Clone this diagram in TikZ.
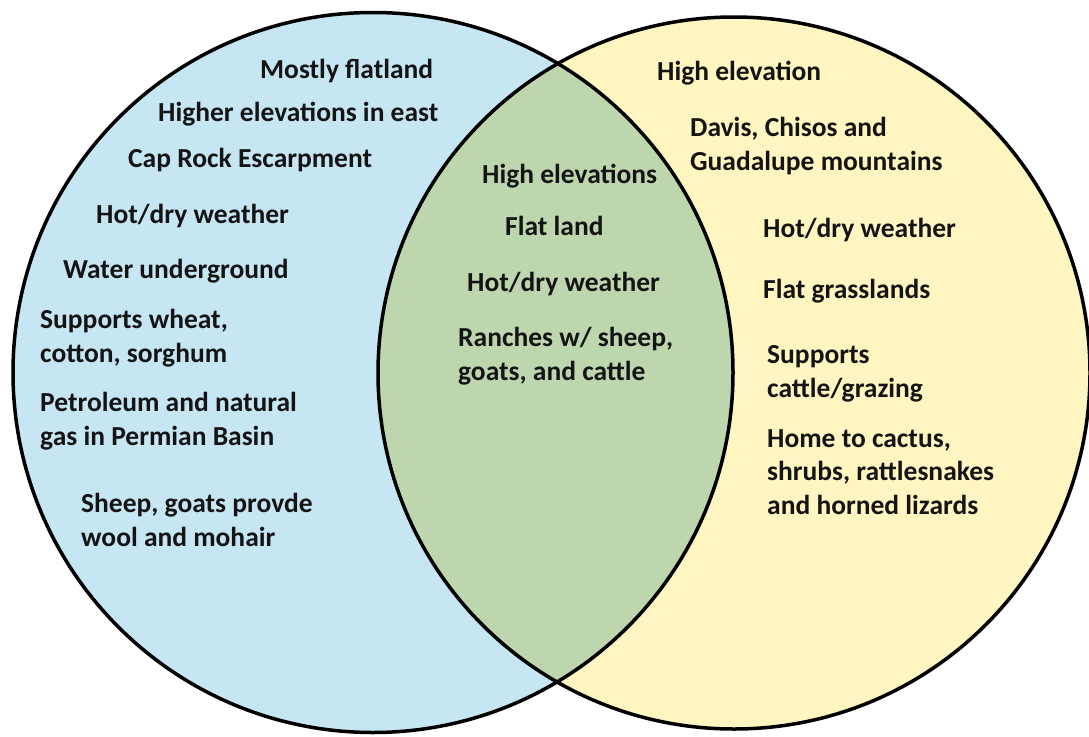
\documentclass[tikz,border=0pt]{standalone}
\usepackage{fontspec}
\setmainfont{Carlito}
\usetikzlibrary{positioning}
\definecolor{westblue}{RGB}{197,230,242}
\definecolor{eastyellow}{RGB}{255,245,192}
\definecolor{bothgreen}{RGB}{190,214,174}
\definecolor{ink}{RGB}{20,20,20}

\begin{document}
\begin{tikzpicture}[x=1pt,y=-1pt,
  txt/.style={anchor=base west,inner sep=0pt,align=left,text=ink,
    font=\fontsize{27.5}{33.5}\selectfont\bfseries},
  rim/.style={line width=3.5pt,draw=black}]

\useasboundingbox (0,0) rectangle (1089,736);

% the two regions and their overlap
\fill[westblue]   (373,372.5) circle (360);
\fill[eastyellow] (734,373) circle (356);
\begin{scope}
\clip (373,372.5) circle (360);
\fill[bothgreen]  (734,373) circle (356);
\end{scope}
\draw[rim] (373,372.5) circle (360);
\draw[rim] (734,373) circle (356);

% left (base of a wrapped text = its last line)
\node[txt] (w1) at (260,78)  {Mostly flatland};
\node[txt] (w2) at (158,121) {Higher elevations in east};
\node[txt] (w3) at (128,167) {Cap Rock Escarpment};
\node[txt] (w4) at (96,223)  {Hot/dry weather};
\node[txt] (w5) at (63,278)  {Water underground};
\node[txt] (w6) at (40,362)  {Supports wheat,\\cotton, sorghum};
\node[txt] (w7) at (40,445)  {Petroleum and natural\\gas in Permian Basin};
\node[txt] (w8) at (81,546)  {Sheep, goats provde\\wool and mohair};

% middle
\node[txt] (b1) at (482,183) {High elevations};
\node[txt] (b2) at (505,235) {Flat land};
\node[txt] (b3) at (467,291) {Hot/dry weather};
\node[txt] (b4) at (458,380) {Ranches w/ sheep,\\goats, and cattle};

% right
\node[txt] (e1) at (657,80)  {High elevation};
\node[txt] (e2) at (690,170) {Davis, Chisos and\\Guadalupe mountains};
\node[txt] (e3) at (763,237) {Hot/dry weather};
\node[txt] (e4) at (763,298) {Flat grasslands};
\node[txt] (e5) at (767,397) {Supports\\cattle/grazing};
\node[txt] (e6) at (767,514) {Home to cactus,\\shrubs, rattlesnakes\\and horned lizards};
\end{tikzpicture}
\end{document}
